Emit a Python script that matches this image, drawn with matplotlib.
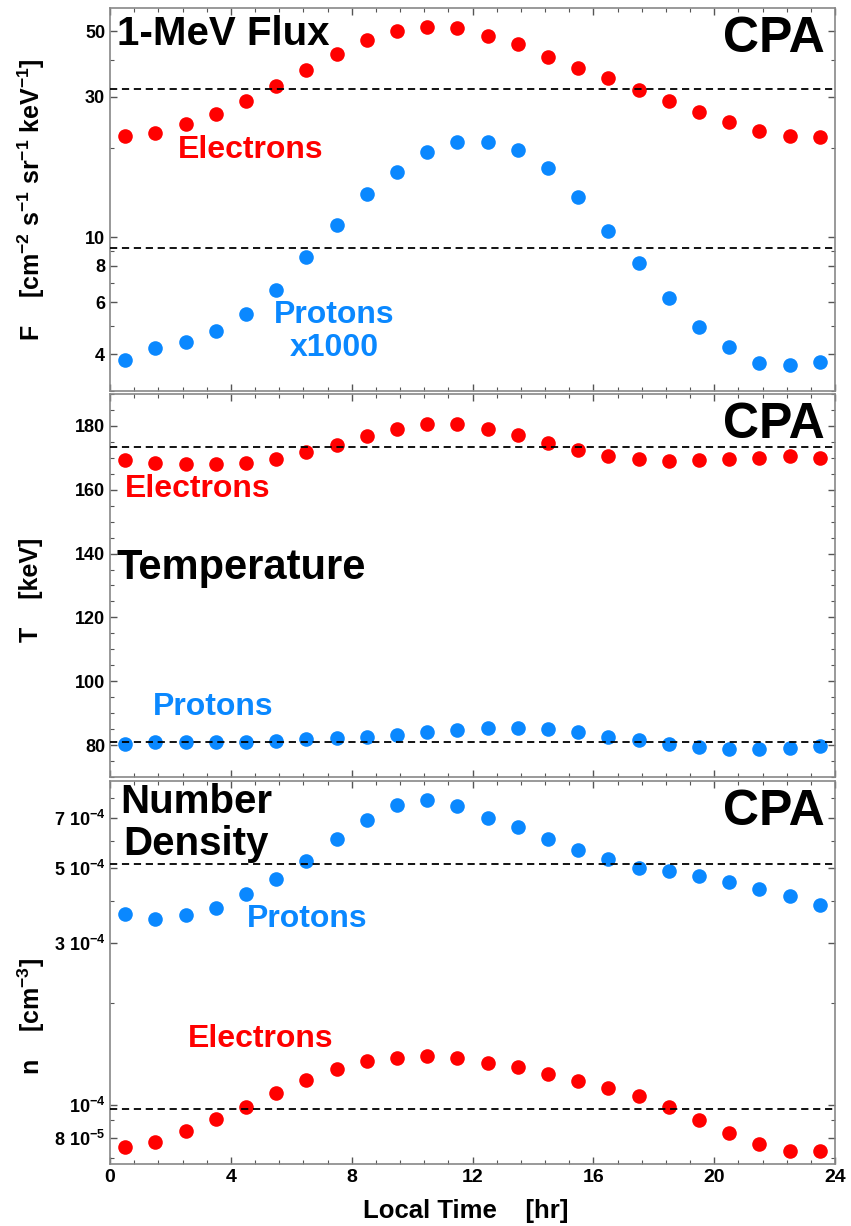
import numpy as np
import matplotlib.pyplot as plt
from matplotlib.ticker import FixedLocator, NullFormatter, MultipleLocator

plt.rcParams['font.family'] = ['Liberation Sans', 'DejaVu Sans']
plt.rcParams['font.weight'] = 'bold'
plt.rcParams['mathtext.fontset'] = 'custom'
plt.rcParams['mathtext.rm'] = 'Liberation Sans:bold'
plt.rcParams['mathtext.default'] = 'regular'

RED = '#ff0000'
BLUE = '#0a88ff'

# local time bins (hr)
local_time = np.arange(0.5, 24, 1.0)

# 1-MeV flux, cm^-2 s^-1 sr^-1 keV^-1 (protons scaled x1000)
flux_e = [22.1, 22.5, 24.2, 26.1, 29.0, 32.7, 37.0, 41.9, 46.6, 50.0, 51.9, 51.3,
          48.3, 45.2, 40.9, 37.6, 34.7, 31.6, 29.1, 26.6, 24.6, 22.9, 22.1, 21.9]
flux_p = [3.83, 4.19, 4.39, 4.79, 5.48, 6.59, 8.56, 11.0, 14.0, 16.7, 19.4, 21.0,
          21.1, 19.8, 17.2, 13.7, 10.45, 8.17, 6.22, 4.96, 4.23, 3.73, 3.68, 3.75]
flux_mean = [31.8, 9.2]

# temperature, keV
temp_e = [169.3, 168.3, 168.0, 168.1, 168.4, 169.6, 171.7, 174.1, 176.9, 179.0, 180.5, 180.5,
          179.1, 177.0, 174.7, 172.5, 170.6, 169.6, 169.1, 169.3, 169.6, 170.1, 170.5, 169.9]
temp_p = [80.2, 81.0, 80.9, 80.9, 80.9, 81.25, 81.9, 82.2, 82.6, 83.2, 84.0, 84.7,
          85.2, 85.2, 85.0, 84.0, 82.6, 81.6, 80.3, 79.3, 78.75, 78.65, 79.0, 79.7]
temp_mean = [173.3, 81.0]

# number density, cm^-3
dens_p = [3.66e-4, 3.53e-4, 3.62e-4, 3.80e-4, 4.17e-4, 4.62e-4, 5.22e-4, 6.09e-4, 6.89e-4,
          7.63e-4, 7.89e-4, 7.60e-4, 7.00e-4, 6.58e-4, 6.06e-4, 5.65e-4, 5.30e-4, 4.99e-4,
          4.89e-4, 4.73e-4, 4.53e-4, 4.33e-4, 4.12e-4, 3.87e-4]
dens_e = [7.51e-5, 7.80e-5, 8.40e-5, 9.08e-5, 9.89e-5, 1.087e-4, 1.183e-4, 1.276e-4, 1.347e-4,
          1.377e-4, 1.39e-4, 1.377e-4, 1.331e-4, 1.291e-4, 1.231e-4, 1.177e-4, 1.125e-4,
          1.063e-4, 9.84e-5, 9.04e-5, 8.29e-5, 7.66e-5, 7.30e-5, 7.33e-5]
dens_mean = [5.14e-4, 9.73e-5]

fig = plt.figure(figsize=(8.51, 12.26), dpi=100)
left, width, height = 110 / 851, 725 / 851, 383 / 1226
ax1 = fig.add_axes([left, 1 - 391 / 1226, width, height])
ax2 = fig.add_axes([left, 1 - 777 / 1226, width, height])
ax3 = fig.add_axes([left, 1 - 1164 / 1226, width, height])

ms = 10.5
lab = 23
for ax in (ax1, ax2, ax3):
    ax.set_xlim(0, 24)
    ax.xaxis.set_major_locator(MultipleLocator(4))
    ax.xaxis.set_minor_locator(MultipleLocator(0.8))
    ax.tick_params(which='both', direction='in', top=True, right=True,
                   color='#555555', labelsize=13)
    ax.tick_params(which='major', length=5, width=1)
    ax.tick_params(which='minor', length=3, width=0.8)
    for s in ax.spines.values():
        s.set_color('#888888')
        s.set_linewidth(1.2)
    ax.text(0.986, 0.885, 'CPA', transform=ax.transAxes, ha='right', va='baseline',
            fontsize=36, fontweight='bold')

for ax in (ax1, ax2):
    ax.tick_params(axis='x', labelbottom=False)

# flux panel
ax1.plot(local_time, flux_e, 'o', color=RED, ms=ms, mec='none')
ax1.plot(local_time, flux_p, 'o', color=BLUE, ms=ms, mec='none')
for v in flux_mean:
    ax1.axhline(v, color='k', lw=1.3, ls=(0, (4, 2.6)), zorder=3)
ax1.set_yscale('log')
ax1.set_ylim(3, 60)
ax1.yaxis.set_major_locator(FixedLocator([4, 6, 8, 10, 30, 50]))
ax1.yaxis.set_minor_locator(FixedLocator([3, 5, 7, 9, 20, 40]))
ax1.yaxis.set_major_formatter(plt.FuncFormatter(lambda v, p: '%d' % v))
ax1.yaxis.set_minor_formatter(NullFormatter())
ax1.text(0.0097, 0.9034, '1-MeV Flux', transform=ax1.transAxes, fontsize=29, va='baseline')
ax1.text(0.0938, 0.608, 'Electrons', transform=ax1.transAxes, fontsize=lab, color=RED, va='baseline')
ax1.text(0.309, 0.1775, 'Protons', transform=ax1.transAxes, fontsize=lab, color=BLUE,
         va='baseline', ha='center')
ax1.text(0.309, 0.0914, 'x1000', transform=ax1.transAxes, fontsize=lab, color=BLUE,
         va='baseline', ha='center')

# temperature panel
ax2.plot(local_time, temp_e, 'o', color=RED, ms=ms, mec='none')
ax2.plot(local_time, temp_p, 'o', color=BLUE, ms=ms, mec='none')
for v in temp_mean:
    ax2.axhline(v, color='k', lw=1.3, ls=(0, (4, 2.6)), zorder=3)
ax2.set_ylim(70, 190)
ax2.yaxis.set_major_locator(MultipleLocator(20))
ax2.yaxis.set_minor_locator(MultipleLocator(5))
ax2.text(0.0207, 0.732, 'Electrons', transform=ax2.transAxes, fontsize=lab, color=RED, va='baseline')
ax2.text(0.0092, 0.517, 'Temperature', transform=ax2.transAxes, fontsize=30, va='baseline')
ax2.text(0.0593, 0.1619, 'Protons', transform=ax2.transAxes, fontsize=lab, color=BLUE, va='baseline')

# density panel
ax3.plot(local_time, dens_p, 'o', color=BLUE, ms=ms, mec='none')
ax3.plot(local_time, dens_e, 'o', color=RED, ms=ms, mec='none')
for v in dens_mean:
    ax3.axhline(v, color='k', lw=1.3, ls=(0, (4, 2.6)), zorder=3)
ax3.set_yscale('log')
ax3.set_ylim(6.7e-5, 9e-4)
ax3.yaxis.set_major_locator(FixedLocator([8e-5, 1e-4, 3e-4, 5e-4, 7e-4]))
ax3.yaxis.set_minor_locator(FixedLocator([7e-5, 9e-5, 2e-4, 4e-4, 6e-4, 8e-4]))
ax3.set_yticklabels(['8 10$^{-5}$', '10$^{-4}$', '3 10$^{-4}$', '5 10$^{-4}$', '7 10$^{-4}$'])
ax3.yaxis.set_minor_formatter(NullFormatter())
ax3.text(0.0138, 0.9157, 'Number', transform=ax3.transAxes, fontsize=29, va='baseline')
ax3.text(0.0179, 0.8068, 'Density', transform=ax3.transAxes, fontsize=29, va='baseline')
ax3.text(0.1885, 0.6196, 'Protons', transform=ax3.transAxes, fontsize=lab, color=BLUE, va='baseline')
ax3.text(0.108, 0.3063, 'Electrons', transform=ax3.transAxes, fontsize=lab, color=RED, va='baseline')
ax3.tick_params(axis='x', labelsize=14)

# axis titles
fig.text(31 / 851, 1 - 200 / 1226, 'F    [cm$^{-2}$ s$^{-1}$ sr$^{-1}$ keV$^{-1}$]',
         rotation=90, ha='center', va='center', fontsize=18)
fig.text(31 / 851, 1 - 590 / 1226, 'T    [keV]', rotation=90, ha='center', va='center', fontsize=18)
fig.text(31 / 851, 1 - 1016 / 1226, 'n    [cm$^{-3}$]', rotation=90, ha='center', va='center',
         fontsize=18)
fig.text(466 / 851, 1 - 1218 / 1226, 'Local Time    [hr]', ha='center', va='baseline', fontsize=18.5)

fig.savefig('out.png', dpi=100)
